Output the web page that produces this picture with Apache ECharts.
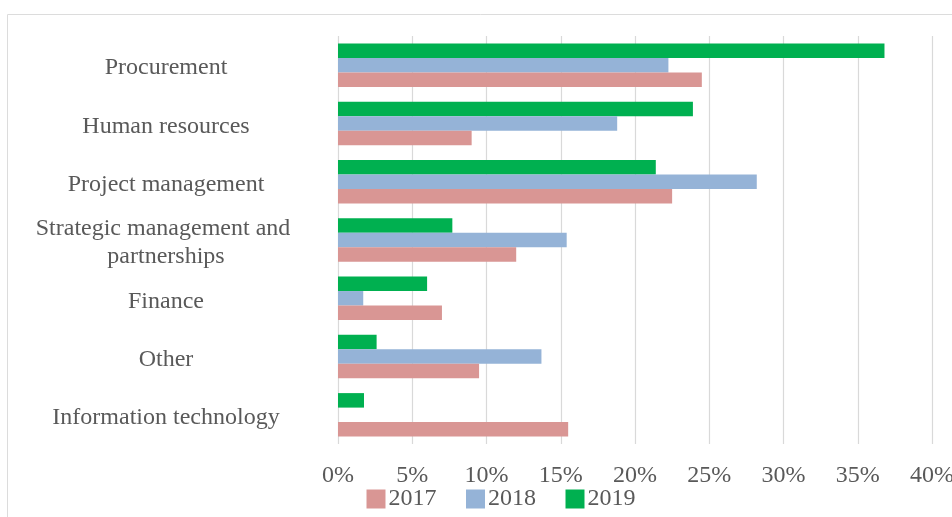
<!DOCTYPE html>
<html>
<head>
<meta charset="utf-8">
<style>
  html, body { margin: 0; padding: 0; background: #ffffff; }
  #chart { width: 952px; height: 517px; }
</style>
<script src="https://cdn.jsdelivr.net/npm/echarts@6/dist/echarts.min.js"></script>
</head>
<body>
<div id="chart"></div>
<script>
// Functional areas, listed top to bottom
const categories = [
  'Procurement',
  'Human resources',
  'Project management',
  'Strategic management and partnerships',
  'Finance',
  'Other',
  'Information technology'
];

// Share of cases per area (%)
const values2017 = [24.5, 9.0, 22.5, 12.0, 7.0, 9.5, 15.5];
const values2018 = [22.25, 18.8, 28.2, 15.4, 1.7, 13.7, 0];
const values2019 = [36.8, 23.9, 21.4, 7.7, 6.0, 2.6, 1.75];

const years = ['2017', '2018', '2019'];
const colors = { '2017': '#d99694', '2018': '#95b3d7', '2019': '#00b050' };

const textColor = '#595959';
const serif = '"Liberation Serif", "Times New Roman", serif';

const chart = echarts.init(document.getElementById('chart'), null, { renderer: 'canvas' });

function barSeries(name, data) {
  return {
    name: name,
    type: 'bar',
    data: data,
    barWidth: 14.5,
    barGap: '0%',
    itemStyle: { color: colors[name] },
    emphasis: { disabled: true }
  };
}

chart.setOption({
  animation: false,
  graphic: [{
    type: 'rect',
    shape: { x: 7.5, y: 14.5, width: 1000, height: 600 },
    style: { fill: 'none', stroke: '#dcdcdc', lineWidth: 1 },
    silent: true
  }],
  grid: {
    left: 338, right: 20, top: 36, bottom: 73,
    containLabel: false,
    outerBoundsMode: 'none'
  },
  legend: {
    data: years,
    left: 361.5,
    top: 482,
    itemWidth: 19,
    itemHeight: 19,
    itemGap: 29.5,
    icon: 'rect',
    textStyle: { fontFamily: serif, fontSize: 24, color: textColor, padding: [0, 0, 0, -2] }
  },
  xAxis: {
    type: 'value',
    min: 0,
    max: 40,
    interval: 5,
    axisLine: { show: false },
    axisTick: { show: false },
    splitLine: { show: true, lineStyle: { color: '#d9d9d9', width: 1.2 } },
    axisLabel: {
      formatter: '{value}%',
      fontFamily: serif,
      fontSize: 24,
      color: textColor,
      margin: 20,
      hideOverlap: false
    }
  },
  yAxis: {
    type: 'category',
    data: categories,
    inverse: true,
    axisLine: { show: false },
    axisTick: { show: false },
    axisLabel: {
      align: 'center',
      margin: 172,
      width: 262,
      overflow: 'break',
      formatter: function (v) { return '{c|' + v + '}'; },
      rich: {
        c: {
          fontFamily: serif,
          fontSize: 24,
          color: textColor,
          lineHeight: 28,
          padding: [6, 0, 0, 0]
        }
      },
      fontFamily: serif,
      fontSize: 24,
      color: textColor
    }
  },
  series: [
    barSeries('2019', values2019),
    barSeries('2018', values2018),
    barSeries('2017', values2017)
  ]
});
</script>
</body>
</html>
